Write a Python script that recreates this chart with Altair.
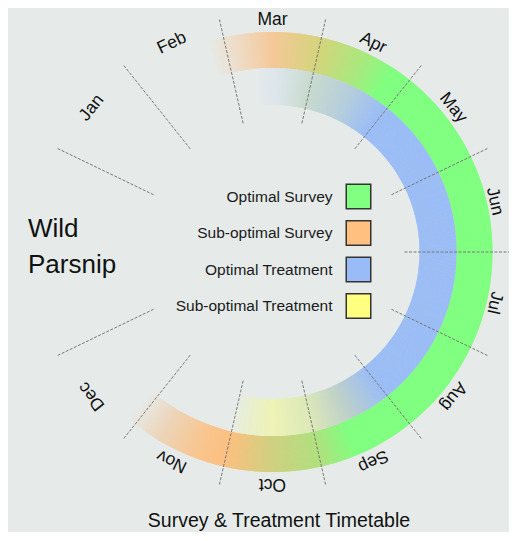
import altair as alt
import pandas as pd

# ---------------- data ----------------
months = ["Jan", "Feb", "Mar", "Apr", "May", "Jun", "Jul", "Aug", "Sep", "Oct", "Nov", "Dec"]
month_pos = list(range(12))          # slot index; two empty slots (12, 13) at the left
boundary_pos = [-0.5, 0.5, 1.5, 2.5, 3.5, 4.5, 5.5, 6.5, 7.5, 8.5, 9.5, 10.5, 11.5]

BG = "#E6EBEA"
# outer band: survey timing (position in month slots -> colour stop)
survey_pos = [1.30, 1.60, 2.00, 2.50, 3.00, 3.30, 8.10, 8.50, 9.00, 9.50, 9.80, 10.20, 10.60]
survey_col = [BG, "#EEDCC8", "#F5C898", "#D4D47C", "#A6EA7E", "#80FF80", "#80FF80",
              "#B0E07E", "#CFD080", "#FCC080", "#F8C690", "#EDD4B8", BG]
# inner band: treatment timing
treat_pos = [1.75, 2.05, 2.50, 3.00, 3.45, 7.50, 8.00, 8.50, 9.00, 9.30, 9.55]
treat_col = [BG, "#DDE6EC", "#C8DACE", "#B5CEDC", "#9BBDF5", "#9BBDF5", "#BCCFCB",
             "#DCE8B8", "#EEF3B6", "#EAEFCC", BG]

legend_labels = ["Optimal Survey", "Sub-optimal Survey", "Optimal Treatment", "Sub-optimal Treatment"]
legend_colors = ["#80FF80", "#FFC080", "#99BBF7", "#FFFF80"]

FONT = "Liberation Sans"
W = H = 470
TWO_PI = 6.283185307179586
theta_scale = alt.Scale(domain=[2, 16], range=[0, TWO_PI])
STEP = 0.01


def band(pos, cols, r_in, r_out):
    n = int(round((pos[-1] - pos[0]) / STEP))
    return (
        alt.Chart(alt.sequence(0, n, 1, as_="i"))
        .transform_calculate(
            m=f"{pos[0]} + datum.i * {STEP}",
            m2=f"{pos[0]} + (datum.i + 1.8) * {STEP}",
        )
        .mark_arc(radius=r_out, radius2=r_in, strokeWidth=0)
        .encode(
            theta=alt.Theta("m:Q", scale=theta_scale, stack=None),
            theta2="m2:Q",
            color=alt.Color("m:Q", scale=alt.Scale(domain=pos, range=cols, interpolate="rgb"), legend=None),
        )
    )


survey = band(survey_pos, survey_col, 184, 220)
treat = band(treat_pos, treat_col, 147, 184)

lines = (
    alt.Chart(pd.DataFrame({"b": boundary_pos}))
    .transform_calculate(a=f"(datum.b - 2) * {TWO_PI} / 14")
    .transform_calculate(
        x1=f"{W/2} + 132 * sin(datum.a)", y1=f"{H/2} - 132 * cos(datum.a)",
        x2=f"{W/2} + 239 * sin(datum.a)", y2=f"{H/2} - 239 * cos(datum.a)",
    )
    .mark_rule(stroke="#777777", strokeWidth=1, strokeDash=[3, 1.5])
    .encode(
        x=alt.X("x1:Q", scale=None, axis=None),
        y=alt.Y("y1:Q", scale=None, axis=None),
        x2="x2:Q",
        y2="y2:Q",
    )
)

labels = (
    alt.Chart(pd.DataFrame({"month": months, "pos": month_pos}))
    .transform_calculate(a=f"(datum.pos - 2) * {TWO_PI} / 14")
    .transform_calculate(
        rot="((datum.pos - 2) * 360 / 14 + 360) % 360",
        r="232 - 5 * pow(abs(sin(datum.a)), 8)",
    )
    .mark_text(font=FONT, fontSize=17.5, color="#111111", align="center", baseline="middle")
    .encode(
        theta=alt.Theta("pos:Q", scale=theta_scale, stack=None),
        radius=alt.Radius("r:Q", scale=None),
        angle=alt.Angle("rot:Q", scale=None),
        text="month:N",
    )
)

leg_df = pd.DataFrame({"label": legend_labels, "col": legend_colors})
leg_y = alt.Y("label:N", sort=legend_labels, scale=alt.Scale(type="point", range=[179.5, 289], padding=0), axis=None)
leg_text = alt.Chart(leg_df).mark_text(font=FONT, fontSize=15.5, color="#1a1a1a", align="right", baseline="middle").encode(
    x=alt.value(295), y=leg_y, text="label:N"
)
leg_box = alt.Chart(leg_df).mark_square(size=600, opacity=1, stroke="#333333", strokeWidth=1.5).encode(
    x=alt.value(321), y=leg_y, fill=alt.Fill("col:N", scale=None)
)

name = alt.Chart(pd.DataFrame({"t": [0]})).mark_text(
    font=FONT, fontSize=26, color="#111111", align="left", baseline="alphabetic", lineHeight=36
).encode(x=alt.value(-9.5), y=alt.value(220), text=alt.value(["Wild", "Parsnip"]))

title = alt.Chart(pd.DataFrame({"t": [0]})).mark_text(
    font=FONT, fontSize=19.5, color="#111111", align="center", baseline="alphabetic"
).encode(x=alt.value(241.5), y=alt.value(510), text=alt.value("Survey & Treatment Timetable"))

chart = (
    alt.layer(survey, treat, lines, labels, leg_box, leg_text, name, title)
    .resolve_scale(color="independent", x="independent", y="independent")
    .properties(
        width=W, height=H,
        padding={"left": 29.5, "top": 9, "right": 1.5, "bottom": 45},
        autosize=alt.AutoSizeParams(type="none"),
        background=BG,
    )
    .configure_view(stroke=None)
)

chart.save("out.html", embed_options={"renderer": "svg", "actions": False})
